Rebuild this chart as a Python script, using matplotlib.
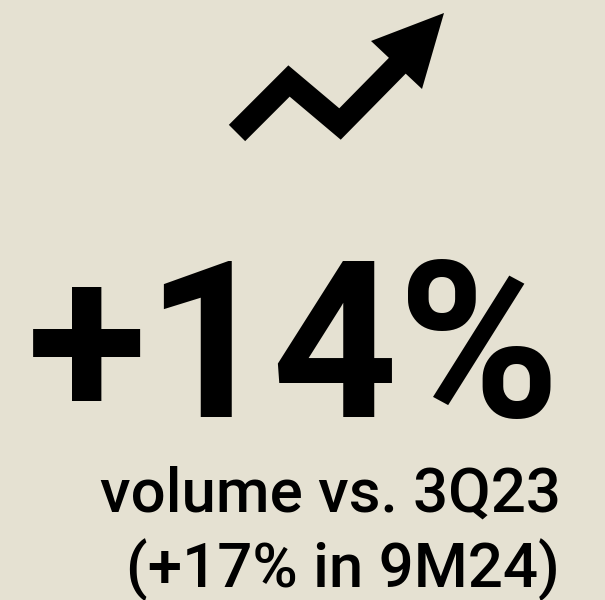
import matplotlib.pyplot as plt
from matplotlib.patches import Polygon

# text content
headline = "+14%"
sub_lines = ["volume vs. 3Q23", "(+17% in 9M24)"]

# trend icon (pixel coords, y down)
zig_x = [237, 289, 340, 400]
zig_y = [133, 81, 124, 63]
head_pts = [(444, 13), (371, 41), (422, 89)]

bg = "#E5E1D2"
fonts = ["Roboto", "DejaVu Sans"]

fig = plt.figure(figsize=(6.05, 6.0), dpi=100, facecolor=bg)
ax = fig.add_axes([0, 0, 1, 1])
ax.set_xlim(0, 605)
ax.set_ylim(600, 0)
ax.set_facecolor(bg)
ax.axis("off")

# icon
ax.plot(zig_x, zig_y, color="black", lw=16.6,
        solid_capstyle="butt", solid_joinstyle="miter")
ax.add_patch(Polygon(head_pts, closed=True, color="black", lw=0))

# big number
ax.text(294, 417, headline, fontsize=158, fontweight="bold",
        family=fonts, ha="center", va="baseline", color="black")

# sub text
ax.text(330, 512, sub_lines[0], fontsize=44.5, fontweight="medium",
        family=fonts, ha="center", va="baseline", color="black")
ax.text(343, 587, sub_lines[1], fontsize=44.5, fontweight="medium",
        family=fonts, ha="center", va="baseline", color="black")

fig.savefig("out.png", dpi=100, facecolor=bg)
